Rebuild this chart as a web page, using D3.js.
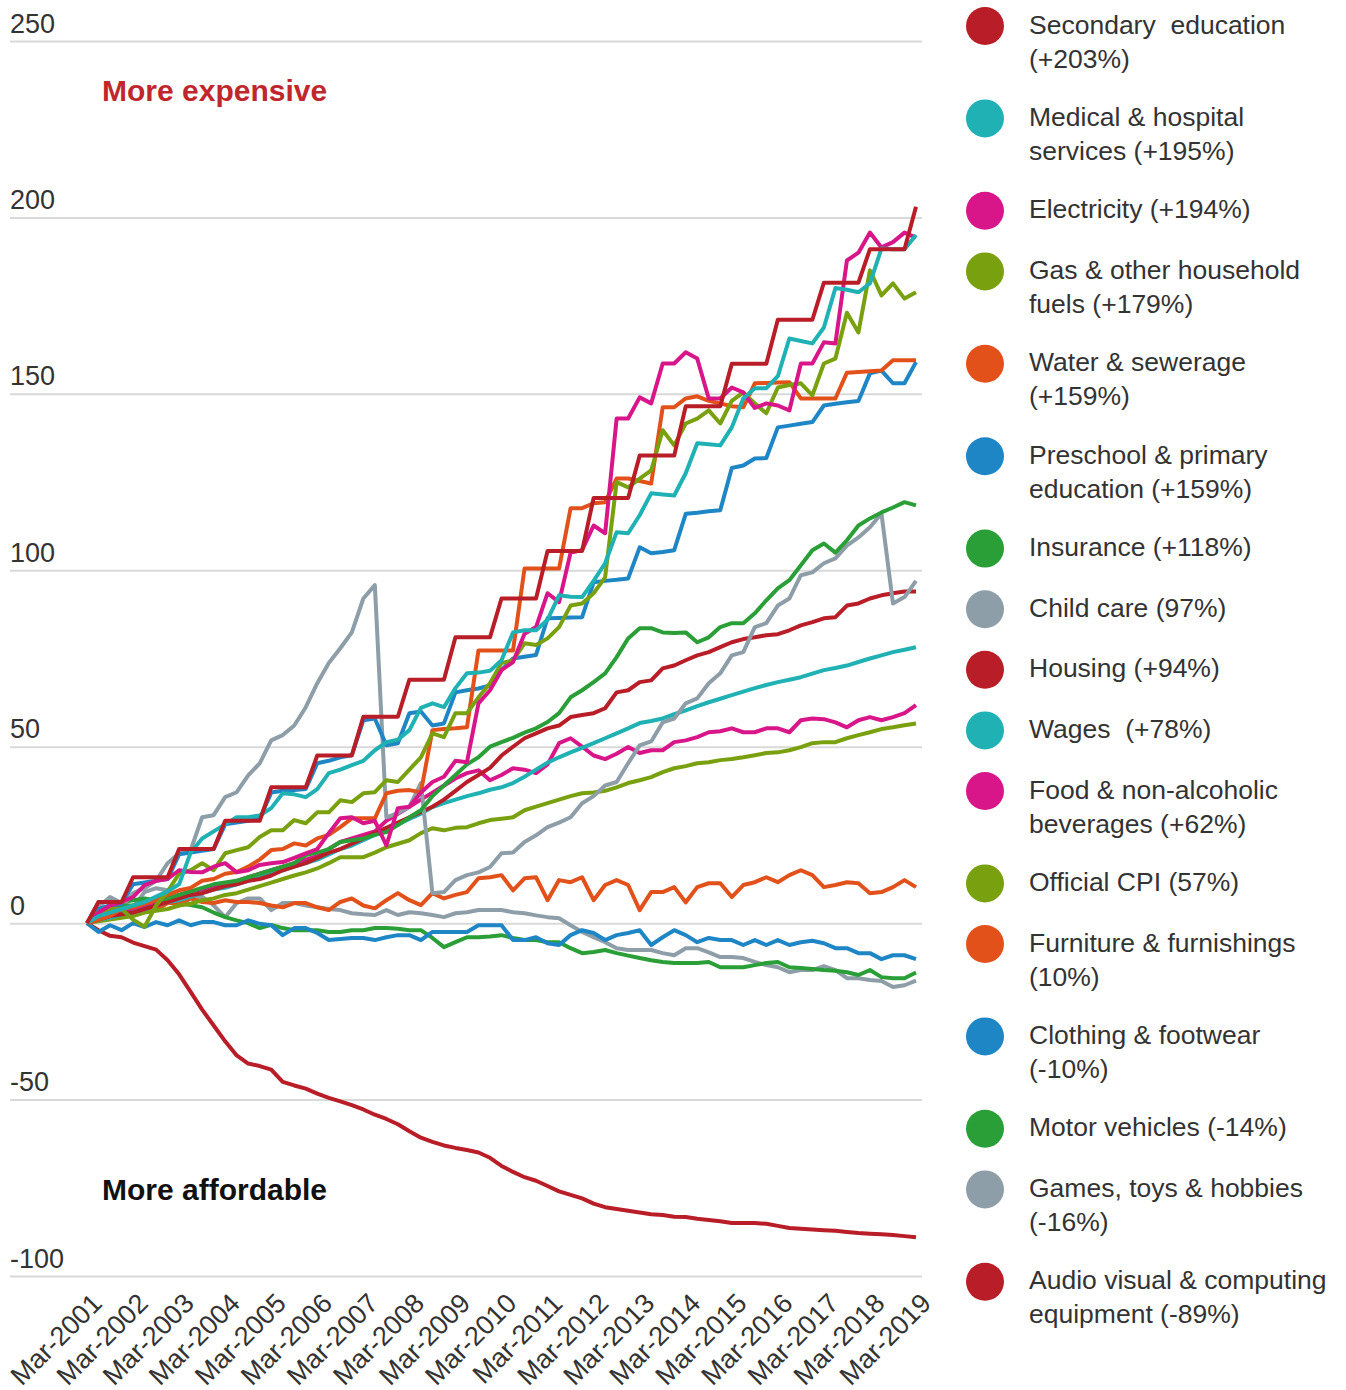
<!DOCTYPE html>
<html>
<head>
<meta charset="utf-8">
<script src="https://cdn.jsdelivr.net/npm/d3@7"></script>
<style>
body { margin: 0; background: #fff; }
svg { display: block; font-family: "Liberation Sans", Arial, sans-serif; }
</style>
</head>
<body>
<script>
// quarterly change since Mar-2001 (%), one value per quarter Mar-2001 .. Mar-2019
const xTickLabels = ["Mar-2001","Mar-2002","Mar-2003","Mar-2004","Mar-2005","Mar-2006","Mar-2007","Mar-2008","Mar-2009","Mar-2010","Mar-2011","Mar-2012","Mar-2013","Mar-2014","Mar-2015","Mar-2016","Mar-2017","Mar-2018","Mar-2019"]
const yTicks = [-100, -50, 0, 50, 100, 150, 200, 250]

const secondaryEdu = [0,6,6,6,13,13,13,13,21,21,21,21,29,29,29,29,38.5,38.5,38.5,38.5,47.5,47.5,47.5,47.5,58.5,58.5,58.5,58.5,69,69,69,69,81,81,81,81,92,92,92,92,105.5,105.5,105.5,105.5,120.5,120.5,120.5,120.5,132.5,132.5,132.5,132.5,146.5,146.5,146.5,146.5,158.5,158.5,158.5,158.5,171,171,171,171,181.5,181.5,181.5,181.5,191,191,191,191,203]
const medical = [0,2,3,4,5,6,7.5,9,11,20,24,26,28,30,30,30.5,32.6,36.8,36.5,35.7,38,42.5,43.5,44.8,46,49,51.3,52,54.7,61,62.3,61.2,66.6,70.8,71,71.5,74.5,82.4,83,83,86,92.9,92.5,92.4,97,102,110.8,110.5,115.6,121.8,121.5,121.2,127.5,136,135.7,135.4,140.5,148.7,151.6,151.6,155,165.7,165,164.3,168.8,180,179.5,178.8,181.3,191.2,191,191,195]
const electricity = [0,3,5,6,7.4,10.8,12,12.5,15,14.5,14.4,16,17,14.4,15,16.5,17,17.3,18.5,19.8,21,25.5,29.7,30,28.3,29,22,32.6,33,37,40,41.5,46,45.6,62.3,66,71.7,74,82,83.9,93.5,91,105,105.7,112.7,110.5,143,143,149,147.3,158.6,158.6,161.8,160,148.7,148.7,151.8,150.4,146,147.3,146.7,145.3,158.6,158.6,164.6,164.3,187.8,190,195.7,191.5,193,195.7,194.3]
const gas = [0,3,4,4,1,-1,5,9,14,15,17,15,19.8,20.7,21.5,24.4,26.3,26.3,29.2,28.3,31.4,31.4,34.8,34.3,36.8,37.1,40.5,40,43.5,47,53.8,52.7,59.5,59.5,64,68,73.7,74.5,79.3,78.8,80.7,83.9,90,90.6,93.5,98,125,123.5,126,128.3,139.7,135.4,141.6,143,145.3,141.6,148,150.4,147.3,144.5,151.8,152.5,153,149.6,158.6,160,173,167.4,185,177.9,181.3,177,178.8]
const water = [0,1,2,4,4.5,5.5,6.5,8,9.3,10,12,12.5,14,14.5,16,18,20.7,21,22.6,22,24,25,27.2,29.7,29.7,29.7,36.8,37.5,37.7,37.1,54.7,55,55.2,55.5,77.3,77.3,77.3,77.3,100.5,100.5,100.5,100.5,117.6,117.6,119,119.3,126,126,125.3,124.6,146.2,146.2,148.7,149.3,148,147.3,146.5,146.2,153,153.1,153.2,153.3,148.7,148.7,148.7,148.7,156,156.2,156.4,156.6,159.5,159.5,159.5]
const preschool = [0,4,5,5.5,11,11.5,12,12.5,19.5,20,20.5,21,28,28.5,29,29.5,37,37.5,37.7,38,45.3,46,47,47.6,57.5,58,50.4,51,59.5,60,56,56.6,65.4,66,66.5,67.4,71.7,75,75.5,76,86.4,86.5,86.6,86.7,96.6,97,97.3,97.7,106.5,104.8,105.2,105.7,116,116.3,116.7,117,129,129.7,131.7,131.8,140.5,141,141.5,142,146.7,147.2,147.6,148,155.8,156.6,153,153,159]
const insurance = [0,2,4,5,5,6,6.5,7,8,9,10,11,11.5,12,13,14,15,16,17,19.3,20,21,23,23.5,24,25,25.8,27.8,30,32,36,39,42,45,47,50,51.3,52.5,54,55.2,57,59.5,64,66,68.3,70.8,75.4,80.7,83.6,83.6,82.4,82.2,82.4,79.6,81,83.9,85,85,87.8,91.5,94.9,97.2,101.4,105.7,107.6,105,108.5,112.7,114.7,116.4,117.8,119.3,118.4]
const childCare = [0,6,6,4.5,8.5,9.9,12,17,19.8,20.7,30,30.6,35.7,37.1,41.9,45.3,51.8,53.3,56,61.2,68,73.7,77.9,82.4,92,95.8,30,31.2,33,39.7,8.5,8.8,12.2,13.6,14.4,15.9,19.8,20,23,24.9,27.2,28.5,30,34,36,39,40,45.3,50.4,51.5,56.9,58,62.3,63.7,68,70.8,75.9,76.8,83.9,85,90,92,98.6,99.4,102,103.4,107,109.3,112.2,116.1,90.6,92.4,97]
const housing = [0,1,2,2.5,3,4,5,6,7,8,8.5,9.5,10.5,11,12,12.5,13.5,15,16,17,18.5,20,21,22.5,24,25.5,27,28.5,30,31.5,33,35,37.5,40,42,44,47.5,50,52.4,53.8,55.2,56,58.4,59,59.5,60.9,65.4,66,68.3,68.8,72.2,73,74.5,75.9,76.8,78.2,79.6,80.5,81,81.6,81.9,83,84.4,85.3,86.4,86.7,90,90.6,92,92.9,93.5,94,94]
const wages = [0,1,1.5,2.5,3,4,5,6,6.5,7.5,8.5,9.5,10,11,12,13,14,15,16,17,18,19.5,21,22,23.5,25,26.5,28,29.5,31,32.9,34,35,36,36.8,37.8,38.5,39.7,41.5,43.5,45.5,47,48.4,49.7,51,52.4,53.8,55.2,56.7,57.3,58,59.2,60.3,61.5,62.6,63.6,64.6,65.6,66.6,67.5,68.3,69,69.7,70.7,71.7,72.3,73,74,75,75.9,76.8,77.5,78.2]
const food = [0,1,2,3,4,5,6,7,8,9,9.5,10,11,12,13,14,15,16,17,18,19,21,23,24,25,26,29,31,33,35,37,39,41,42.5,43.3,40.5,42,43.9,43.5,42.5,45,51,52.4,50,47.5,46.5,48,49.9,48.2,49,49,51.3,51.8,52.7,54.1,54.4,55.2,54.1,54.1,55.2,55.2,54.1,57.5,58,57.8,56.9,55.5,57.5,58.4,57.5,58.4,59.5,61.8]
const officialCpi = [0,0.5,1,1.5,2,3,3.5,4,5,5.5,6.5,7,8,8.5,9.5,10.5,11.5,12.5,13.5,14.4,15.5,17,18.7,18.7,18.7,20,21.5,22.5,23.5,25.5,26.9,26.3,27,27.2,28.3,29.2,29.6,30,32,33,34,35,36,36.8,37,37.5,38.5,39.7,40.5,41.4,42.8,43.9,44.5,45.3,45.6,46.2,46.5,47,47.6,48.2,48.4,49,49.9,51,51.3,51.3,52.4,53.3,54.1,55,55.5,56.1,56.6]
const furniture = [0,3.7,2.5,2.3,4,5.1,3.7,5.7,5.7,7,6,5.7,6.5,6,6,5.7,5,4.5,5.7,5.7,4.5,3.7,6,7,5,4.2,6.5,8.5,6.5,5.1,8.5,7,8,8.8,12.7,13,13.6,9.3,12.7,13,6.5,12.2,11.6,13,6.5,10.8,12.2,10.8,3.7,8.8,8.8,10.2,5.9,10.2,11.3,11.3,7.4,10.8,11.6,13,11.6,13.6,15,13.6,10.2,10.8,11.6,11.3,8.5,8.8,10.2,12.2,10.2]
const clothing = [0,-2.5,-0.6,-2,0,-1.1,0.3,-0.6,0.8,-0.6,0.3,0.3,-0.6,-0.6,0.8,-0.2,-0.6,-3.4,-1.4,-1.4,-2.8,-4.8,-4.5,-4.2,-4.2,-4.8,-4,-3.4,-3.4,-4.8,-2.5,-2.5,-2.5,-2.5,-0.6,-0.6,-0.6,-4.8,-4.8,-4,-5.7,-6.2,-3.4,-2,-2.8,-4.8,-3.4,-2.8,-2,-6.2,-4,-2,-3.4,-5.4,-4.2,-4.8,-4.8,-6.2,-4.8,-6.2,-4.8,-6.2,-5.4,-5,-5.7,-7.1,-7.1,-8.5,-8.5,-10.2,-9.1,-9.1,-10.2]
const motorVehicles = [0,3.7,5,6,6.5,7,6.5,6,5.7,5.1,4.5,3,1.7,0.8,0,-1.4,-0.5,-1.4,-2,-2,-2,-2.5,-2.5,-2,-2,-1.4,-1.4,-1.6,-2,-2,-4.2,-6.8,-5.4,-4,-4,-3.8,-3.4,-4.2,-4.8,-4.8,-5.4,-5.4,-7.1,-8.5,-8.2,-7.6,-8.5,-9.2,-9.9,-10.5,-11,-11.3,-11.3,-11.3,-11,-12.5,-12.5,-12.5,-11.9,-11.3,-11,-12.5,-12.7,-13,-13.3,-13.5,-13.9,-14.7,-13.3,-15.3,-15.6,-15.6,-14]
const games = [0,4.5,7.4,5.7,4.5,8.8,9.9,9.3,5.1,7,7.5,5,1.7,5.7,7,7,3.7,5.7,5.7,5,4.5,4,3.7,2.8,2.5,2.3,3.7,2.3,3.1,2.8,2.3,1.7,2.8,3.1,3.7,3.7,3.7,3.1,2.8,2.2,1.7,1.4,-0.6,-2.5,-4,-5.4,-7.1,-7.6,-7.6,-7.6,-8.5,-9.1,-7.1,-7.1,-8.3,-9.6,-9.6,-9.9,-11,-11.9,-12.5,-13.9,-13.3,-13.3,-12.2,-13.3,-15.6,-15.6,-16.1,-16.4,-18.1,-17.6,-16.3]
const audioVisual = [0,-2,-3.6,-4,-5.5,-6.5,-7.5,-10.5,-14.5,-19.5,-24.5,-29,-33.5,-37.5,-39.8,-40.5,-41.5,-45,-46,-46.9,-48.3,-49.5,-50.5,-51.6,-52.8,-54.3,-55.5,-57,-59,-60.8,-62,-63,-63.7,-64.3,-65,-66.5,-68.8,-70.5,-72,-73,-74.5,-76,-77,-78,-79.5,-80.5,-81,-81.5,-82,-82.5,-82.7,-83.2,-83.3,-83.8,-84.1,-84.5,-85,-85,-85,-85.2,-85.8,-86.4,-86.6,-86.8,-87,-87.2,-87.5,-87.8,-88,-88.2,-88.4,-88.7,-89]

// legend order
const legendLabels = [
  ["Secondary  education", "(+203%)"],
  ["Medical & hospital", "services (+195%)"],
  ["Electricity (+194%)"],
  ["Gas & other household", "fuels (+179%)"],
  ["Water & sewerage", "(+159%)"],
  ["Preschool & primary", "education (+159%)"],
  ["Insurance (+118%)"],
  ["Child care (97%)"],
  ["Housing (+94%)"],
  ["Wages  (+78%)"],
  ["Food & non-alcoholic", "beverages (+62%)"],
  ["Official CPI (57%)"],
  ["Furniture & furnishings", "(10%)"],
  ["Clothing & footwear", "(-10%)"],
  ["Motor vehicles (-14%)"],
  ["Games, toys & hobbies", "(-16%)"],
  ["Audio visual & computing", "equipment (-89%)"]
]
const seriesValues = [secondaryEdu, medical, electricity, gas, water, preschool, insurance, childCare,
  housing, wages, food, officialCpi, furniture, clothing, motorVehicles, games, audioVisual]

const red = "#b91d27", teal = "#1fb1b4", pink = "#d8168a", olive = "#79a00e",
      orange = "#e3511b", blue = "#1f86c6", green = "#2a9e37", grey = "#8e9ea8"
const palette = [red, teal, pink, olive, orange, blue, green, grey, red, teal, pink, olive, orange, blue, green, grey, red]

const series = legendLabels.map(function(lines, k){
  return {lines: lines, color: palette[k], values: seriesValues[k]}
})

const width = 1346, height = 1390

const svg = d3.select("body").append("svg")
  .attr("width", width)
  .attr("height", height)

const x = d3.scaleLinear()
  .domain([0, secondaryEdu.length - 1])
  .range([87, 916])

const y = d3.scaleLinear()
  .domain([-100, 250])
  .range([1276, 41])

// gridlines + y labels (plain hyphen for negatives)
svg.append("g")
  .attr("class", "y axis")
  .attr("transform", "translate(10,0)")
  .call(d3.axisRight(y).tickValues(yTicks).tickSize(912).tickFormat(function(d){ return String(d) }))
  .call(function(g){
    g.select(".domain").remove()
    g.selectAll(".tick line").attr("stroke", "#d9d9d9").attr("stroke-width", 2)
    g.selectAll(".tick text")
      .attr("x", 0)
      .attr("dy", -9)
      .attr("fill", "#333")
      .attr("font-size", 27)
      .attr("font-family", "Liberation Sans, Arial, sans-serif")
  })

// x labels, one per March
svg.append("g")
  .attr("class", "x axis")
  .attr("transform", "translate(0,1305)")
  .call(d3.axisBottom(x)
    .tickValues(xTickLabels.map(function(d, i){ return i * 4 }))
    .tickSize(0)
    .tickFormat(function(d){ return xTickLabels[d / 4] }))
  .call(function(g){
    g.select(".domain").remove()
    g.selectAll(".tick text")
      .attr("y", 0)
      .attr("dy", 0)
      .attr("text-anchor", "end")
      .attr("transform", "translate(16,0) rotate(-45)")
      .attr("fill", "#333")
      .attr("font-size", 27)
      .attr("font-family", "Liberation Sans, Arial, sans-serif")
  })

const line = d3.line()
  .x(function(d, i){ return x(i) })
  .y(function(d){ return y(d) })

// draw bottom of legend first so the top entries sit on top
svg.append("g")
  .attr("class", "lines")
  .selectAll("path")
  .data(series.slice().reverse())
  .enter().append("path")
  .attr("d", function(d){ return line(d.values) })
  .attr("fill", "none")
  .attr("stroke", function(d){ return d.color })
  .attr("stroke-width", 4)
  .attr("stroke-linejoin", "round")

svg.append("text")
  .text("More expensive")
  .attr("x", 102).attr("y", 101)
  .attr("font-size", 30).attr("font-weight", "bold")
  .attr("fill", "#c0272d")

svg.append("text")
  .text("More affordable")
  .attr("x", 102).attr("y", 1200)
  .attr("font-size", 30).attr("font-weight", "bold")
  .attr("fill", "#111")

// legend
let ly = 24
series.forEach(function(s){
  const item = svg.append("g").attr("transform", "translate(0," + ly + ")")
  item.append("circle")
    .attr("cx", 985).attr("cy", 2).attr("r", 19)
    .attr("fill", s.color)
  item.selectAll("text")
    .data(s.lines)
    .enter().append("text")
    .attr("x", 1029)
    .attr("y", function(d, i){ return 9.5 + i * 34 })
    .attr("font-size", 26.5)
    .attr("fill", "#333")
    .style("white-space", "pre")
    .text(function(d){ return d })
  ly += 60.6 + 31.8 * (s.lines.length - 1)
})
</script>
</body>
</html>
